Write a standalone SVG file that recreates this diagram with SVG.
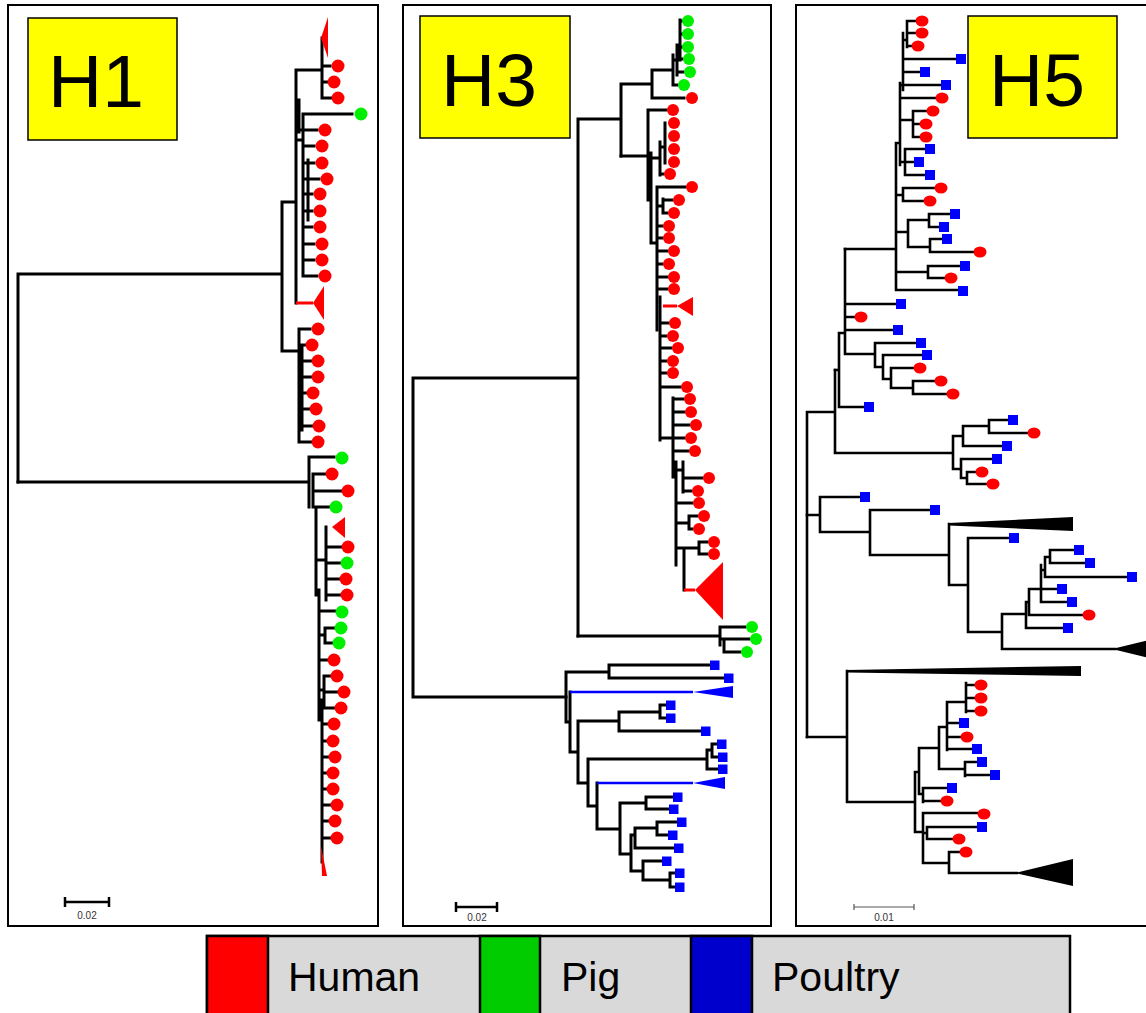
<svg xmlns="http://www.w3.org/2000/svg" width="1146" height="1013" viewBox="0 0 1146 1013">
<style>
.panel{fill:#fff;stroke:#000;stroke-width:2}
.lbl{fill:#ffff00;stroke:#000;stroke-width:1.5}
.lt{font-family:"Liberation Sans",Arial,sans-serif;font-size:75px;fill:#000;text-anchor:middle}
.br{fill:none;stroke:#000;stroke-width:3;stroke-linecap:square}
.br5{fill:none;stroke:#000;stroke-width:2.6;stroke-linecap:square}
.rb{fill:none;stroke:#ff0000;stroke-width:3}
.bb{fill:none;stroke:#0000ff;stroke-width:2.6}
.r{fill:#ff0000}
.g{fill:#00ee00}
.b{fill:#0000ff}
.k{fill:#000}
.sb{fill:none;stroke:#000;stroke-width:2.5}
.sbg{fill:none;stroke:#555;stroke-width:1.2}
.st{font-family:"Liberation Sans",Arial,sans-serif;font-size:10px;fill:#333;text-anchor:middle}
.leg{font-family:"Liberation Sans",Arial,sans-serif;font-size:41px;fill:#000}
</style>
<rect width="1146" height="1013" fill="#fff"/>

<g id="panel-h1">
<rect class="panel" x="8" y="5" width="370" height="921"/>
<g id="label-h1"><rect class="lbl" x="28" y="18" width="149" height="122"/><text class="lt" x="96" y="107">H1</text></g>
<g id="edges-h1">
<path class="br" d="M18,274V482M18,274H282M282,202V351M282,202H296M296,70V303M299,100V132M296,70H322M322,38V98M322,66H330M322,82H327M322,98H331M303,114H352M303,114V276M296,140H303M299,130H317M305,146H314M305,163H314M305,179H319M305,194H312M305,211H312M305,227H312M305,244H314M305,260H314M303,276H317M308,160V220M282,351H299M299,329V442M302,345V430M299,329H310M299,345H305M299,361H311M299,377H311M299,393H306M299,409H309M299,426H312M299,442H311"/>
<path class="br" d="M18,482H309M309,457V507M309,457H334M313,474V507M313,474H325M315,491H341M313,507H329M316,507V595M319,590V720M322,700V862M326,527V600M316,560H326M326,547H341M326,563H340M326,579H339M326,595H340M319,611H335M325,628V643M325,628H334M325,643H332M319,635H325M319,660H327M324,676V708M324,676H330M324,692H337M324,708H334M319,690H324M322,724H327M322,741H326M322,757H328M322,773H326M322,789H326M322,805H330M322,821H328M322,838H330"/>
<path class="rb" d="M296,303H313"/>
</g>
<g id="clades-h1">
<polygon class="r" points="321,38 328,17 328,58"/>
<polygon class="r" points="313,303 324,286 324,320"/>
<polygon class="r" points="332,527 345,517 345,538"/>
<polygon class="r" points="321,846 327,876 322,876"/>
</g>
<g id="leaves-h1">
<circle class="r" cx="338" cy="66" r="6.5"/><circle class="r" cx="334" cy="82" r="6.5"/><circle class="r" cx="338" cy="98" r="6.5"/>
<circle class="g" cx="361" cy="114" r="6.5"/>
<circle class="r" cx="325" cy="130" r="6.5"/><circle class="r" cx="322" cy="146" r="6.5"/><circle class="r" cx="322" cy="163" r="6.5"/><circle class="r" cx="327" cy="179" r="6.5"/><circle class="r" cx="320" cy="194" r="6.5"/><circle class="r" cx="320" cy="211" r="6.5"/><circle class="r" cx="320" cy="227" r="6.5"/><circle class="r" cx="322" cy="244" r="6.5"/><circle class="r" cx="322" cy="260" r="6.5"/><circle class="r" cx="325" cy="276" r="6.5"/>
<circle class="r" cx="318" cy="329" r="6.5"/><circle class="r" cx="312" cy="345" r="6.5"/><circle class="r" cx="318" cy="361" r="6.5"/><circle class="r" cx="318" cy="377" r="6.5"/><circle class="r" cx="313" cy="393" r="6.5"/><circle class="r" cx="316" cy="409" r="6.5"/><circle class="r" cx="319" cy="426" r="6.5"/><circle class="r" cx="318" cy="442" r="6.5"/>
<circle class="g" cx="342" cy="458" r="6.5"/><circle class="r" cx="332" cy="474" r="6.5"/><circle class="r" cx="348" cy="491" r="6.5"/><circle class="g" cx="336" cy="507" r="6.5"/>
<circle class="r" cx="348" cy="547" r="6.5"/><circle class="g" cx="347" cy="563" r="6.5"/><circle class="r" cx="346" cy="579" r="6.5"/><circle class="r" cx="347" cy="595" r="6.5"/><circle class="g" cx="342" cy="612" r="6.5"/><circle class="g" cx="341" cy="628" r="6.5"/><circle class="g" cx="339" cy="643" r="6.5"/>
<circle class="r" cx="334" cy="660" r="6.5"/><circle class="r" cx="337" cy="676" r="6.5"/><circle class="r" cx="344" cy="692" r="6.5"/><circle class="r" cx="341" cy="708" r="6.5"/><circle class="r" cx="334" cy="724" r="6.5"/><circle class="r" cx="333" cy="741" r="6.5"/><circle class="r" cx="335" cy="757" r="6.5"/><circle class="r" cx="333" cy="773" r="6.5"/><circle class="r" cx="333" cy="789" r="6.5"/><circle class="r" cx="337" cy="805" r="6.5"/><circle class="r" cx="335" cy="821" r="6.5"/><circle class="r" cx="337" cy="838" r="6.5"/>
</g>
<g id="scale-h1"><path class="sb" d="M65,902H109M65,897V907M109,897V907"/><text class="st" x="87" y="919">0.02</text></g>
</g>

<g id="panel-h3">
<rect class="panel" x="403" y="5" width="368" height="921"/>
<g id="label-h3"><rect class="lbl" x="420" y="16" width="150" height="122"/><text class="lt" x="489" y="106">H3</text></g>
<g id="edges-h3">
<path class="br" d="M413,378V697M413,378H578M413,697H566M578,119V636M578,119H621M621,84V156M621,84H652M652,70V98M652,98H684M652,70H673M673,55V85M673,85H677M673,60H677M677,45V75M677,72H683M680,20V60M680,21H682M680,34H682M680,47H682M677,59H682"/>
<path class="br" d="M621,156H648M648,110V200M648,110H666M648,158H660M660,142V175M660,174H663M660,147H665M665,123V163M651,153V243M651,243H657M657,187V330M657,187H685M663,199V213M657,206H663M663,200H672M663,213H667M657,226H662M657,238H662M657,251H667M657,264H662M657,277H667M657,289H667"/>
<path class="br" d="M660,297V440M660,323H668M660,336H666M660,348H671M660,361H666M660,373H666M660,387H680M660,438H673M673,398V477M673,399H683M673,412H684M673,425H689M673,438H684M673,451H688M673,470H676M676,462V565M676,470H683M683,462V492M683,478H702M683,491H691M676,503H692M676,523H689M689,516V529M689,516H697M689,529H692M676,548H684M684,548V590M684,548H699M699,542V554M699,542H707M699,554H707"/>
<path class="br" d="M578,636H720M720,627V645M720,627H745M720,639H724M724,639V652M724,639H749M724,652H740"/>
<path class="br" d="M566,672V722M566,672H609M609,665V678M609,665H710M609,678H724M566,722H570M570,692V752M570,752H578M578,721V783M578,721H619M619,712V731M619,712H660M660,705V718M660,705H666M660,718H666M619,731H701M578,783H588M588,759V806M588,759H707M707,750V769M707,750H712M712,744V757M712,744H717M712,757H718M707,769H718M588,806H597M597,783V829M597,829H620M620,803V854M620,803H646M646,797V809M646,797H673M646,809H669M620,854H631M631,835V871M631,835H635M635,828V848M635,828H657M657,822V835M657,822H677M657,835H668M635,848H674M631,871H643M643,861V880M643,861H662M643,880H670M670,873V887M670,873H675M670,887H675"/>
<path class="rb" d="M663,306H677M684,590H695"/>
<path class="bb" d="M570,692H693M597,783H693"/>
</g>
<g id="clades-h3">
<polygon class="r" points="677,306 693,297 693,316"/>
<polygon class="r" points="695,590 723,562 723,620"/>
<polygon class="b" points="693,692 733,686 733,698"/>
<polygon class="b" points="693,783 725,777 725,789"/>
</g>
<g id="leaves-h3">
<circle class="g" cx="688" cy="21" r="6"/><circle class="g" cx="688" cy="34" r="6"/><circle class="g" cx="688" cy="47" r="6"/><circle class="g" cx="689" cy="59" r="6"/><circle class="g" cx="690" cy="72" r="6"/><circle class="g" cx="684" cy="85" r="6"/>
<circle class="r" cx="692" cy="98" r="6"/><circle class="r" cx="673" cy="110" r="6"/><circle class="r" cx="674" cy="123" r="6"/><circle class="r" cx="674" cy="136" r="6"/><circle class="r" cx="674" cy="149" r="6"/><circle class="r" cx="674" cy="162" r="6"/><circle class="r" cx="670" cy="174" r="6"/>
<circle class="r" cx="692" cy="187" r="6"/><circle class="r" cx="679" cy="200" r="6"/><circle class="r" cx="674" cy="213" r="6"/><circle class="r" cx="669" cy="226" r="6"/><circle class="r" cx="669" cy="238" r="6"/><circle class="r" cx="674" cy="251" r="6"/><circle class="r" cx="669" cy="264" r="6"/><circle class="r" cx="674" cy="277" r="6"/><circle class="r" cx="674" cy="289" r="6"/>
<circle class="r" cx="675" cy="323" r="6"/><circle class="r" cx="673" cy="336" r="6"/><circle class="r" cx="678" cy="348" r="6"/><circle class="r" cx="673" cy="361" r="6"/><circle class="r" cx="673" cy="373" r="6"/><circle class="r" cx="687" cy="387" r="6"/><circle class="r" cx="690" cy="399" r="6"/><circle class="r" cx="691" cy="412" r="6"/><circle class="r" cx="696" cy="425" r="6"/><circle class="r" cx="691" cy="438" r="6"/><circle class="r" cx="695" cy="451" r="6"/>
<circle class="r" cx="709" cy="478" r="6"/><circle class="r" cx="698" cy="491" r="6"/><circle class="r" cx="699" cy="503" r="6"/><circle class="r" cx="704" cy="516" r="6"/><circle class="r" cx="699" cy="529" r="6"/><circle class="r" cx="714" cy="542" r="6"/><circle class="r" cx="714" cy="554" r="6"/>
<circle class="g" cx="752" cy="627" r="6"/><circle class="g" cx="756" cy="639" r="6"/><circle class="g" cx="747" cy="652" r="6"/>
<rect class="b" x="710" y="660.5" width="9.5" height="9.5"/><rect class="b" x="724" y="673.5" width="9.5" height="9.5"/>
<rect class="b" x="666" y="700.5" width="9.5" height="9.5"/><rect class="b" x="666" y="713.5" width="9.5" height="9.5"/><rect class="b" x="701" y="726.5" width="9.5" height="9.5"/>
<rect class="b" x="717" y="739.5" width="9.5" height="9.5"/><rect class="b" x="718" y="752.5" width="9.5" height="9.5"/><rect class="b" x="718" y="764.5" width="9.5" height="9.5"/>
<rect class="b" x="673" y="792.5" width="9.5" height="9.5"/><rect class="b" x="669" y="804.5" width="9.5" height="9.5"/><rect class="b" x="677" y="817.5" width="9.5" height="9.5"/><rect class="b" x="668" y="830.5" width="9.5" height="9.5"/><rect class="b" x="674" y="843.5" width="9.5" height="9.5"/><rect class="b" x="662" y="856.5" width="9.5" height="9.5"/><rect class="b" x="675" y="868.5" width="9.5" height="9.5"/><rect class="b" x="675" y="882.5" width="9.5" height="9.5"/>
</g>
<g id="scale-h3"><path class="sb" d="M456,907H497M456,902V912M497,902V912"/><text class="st" x="477" y="921">0.02</text></g>
</g>

<g id="panel-h5">
<rect class="panel" x="796" y="5" width="370" height="921"/>
<g id="label-h5"><rect class="lbl" x="968" y="16" width="149" height="122"/><text class="lt" x="1037" y="106">H5</text></g>
<g id="edges-h5">
<path class="br5" d="M807,412V737M807,412H835M835,370V453M835,453H953M953,436V469M953,436H963M963,426V446M963,426H989M989,420V433M989,420H1008M989,433H1027M963,446H1002M953,469H961M961,459V478M961,459H992M961,478H967M967,472V484M967,472H975M967,484H986"/>
<path class="br5" d="M835,370H839M839,333V407M839,407H864M839,333H845M845,249V354M845,354H875M875,343V367M875,343H916M875,367H883M883,355V379M883,355H922M883,379H891M891,368V388M891,368H913M891,388H913M913,381V394M913,381H934M913,394H946M845,330H893M845,317H854M845,304H896"/>
<path class="br5" d="M845,249H896M896,143V290M896,290H958M896,272H928M928,266V278M928,266H960M928,278H944M896,232H908M908,220V247M908,220H929M929,214V227M929,214H950M929,227H939M908,247H930M930,239V252M930,239H942M930,252H973M896,195H903M903,188V201M903,188H934M903,201H923M896,143H900M900,83V165M900,162H905M905,149V175M905,149H925M905,162H914M905,175H925M900,120H913M913,111V137M913,111H926M913,124H919M913,137H919M900,98H935M900,85H941M903,33V90M903,72H920M905,59H956M903,40H907M907,21V47M907,21H915M907,33H915M907,46H911"/>
<path class="br5" d="M807,515H820M820,497V532M820,497H860M820,532H870M870,510V555M870,510H930M870,555H949M949,524V585M949,585H968M968,538V632M968,538H1009M968,632H1002M1002,614V649M1002,649H1115M1002,614H1026M1026,602V628M1026,628H1063M1026,602H1029M1029,589V615M1029,615H1082M1029,589H1041M1041,565V602M1041,602H1067M1041,589H1057M1041,570H1045M1045,557V577M1045,577H1127M1045,557H1050M1050,550V563M1050,550H1074M1050,563H1085"/>
<path class="br5" d="M807,737H847M847,671V802M847,802H915M915,772V832M915,772H919M919,748V794M919,748H939M939,727V769M939,727H947M947,702V750M947,702H966M966,683V712M966,685H974M966,698H974M966,711H974M947,723H959M947,737H960M947,749H972M939,769H965M965,762V776M965,762H977M965,775H990M919,794H923M923,788V802M923,788H947M923,801H940M915,832H923M923,813V863M923,813H977M923,833H927M927,827V839M927,827H977M927,839H952M923,863H949M949,852V873M949,852H959M949,873H1017"/>
</g>
<g id="clades-h5">
<polygon class="k" points="949,523 1073,517 1073,531 949,525.5"/>
<polygon class="k" points="1112,649 1165,636 1165,662"/>
<polygon class="k" points="847,670 1081,666 1081,676 847,672.5"/>
<polygon class="k" points="1015,873 1073,859 1073,886"/>
</g>
<g id="leaves-h5">
<ellipse class="r" cx="922" cy="21" rx="6.5" ry="5.5"/><ellipse class="r" cx="922" cy="33" rx="6.5" ry="5.5"/><ellipse class="r" cx="918" cy="46" rx="6.5" ry="5.5"/>
<rect class="b" x="956" y="54" width="10" height="10"/><rect class="b" x="920" y="67" width="10" height="10"/><rect class="b" x="941" y="80" width="10" height="10"/>
<ellipse class="r" cx="942" cy="98" rx="6.5" ry="5.5"/><ellipse class="r" cx="933" cy="111" rx="6.5" ry="5.5"/><ellipse class="r" cx="926" cy="124" rx="6.5" ry="5.5"/><ellipse class="r" cx="926" cy="137" rx="6.5" ry="5.5"/>
<rect class="b" x="925" y="144" width="10" height="10"/><rect class="b" x="914" y="157" width="10" height="10"/><rect class="b" x="925" y="170" width="10" height="10"/>
<ellipse class="r" cx="941" cy="188" rx="6.5" ry="5.5"/><ellipse class="r" cx="930" cy="201" rx="6.5" ry="5.5"/>
<rect class="b" x="950" y="209" width="10" height="10"/><rect class="b" x="939" y="222" width="10" height="10"/><rect class="b" x="942" y="234" width="10" height="10"/>
<ellipse class="r" cx="980" cy="252" rx="6.5" ry="5.5"/>
<rect class="b" x="960" y="261" width="10" height="10"/><ellipse class="r" cx="951" cy="278" rx="6.5" ry="5.5"/><rect class="b" x="958" y="286" width="10" height="10"/>
<rect class="b" x="896" y="299" width="10" height="10"/><ellipse class="r" cx="861" cy="317" rx="6.5" ry="5.5"/><rect class="b" x="893" y="325" width="10" height="10"/>
<rect class="b" x="916" y="338" width="10" height="10"/><rect class="b" x="922" y="350" width="10" height="10"/>
<ellipse class="r" cx="920" cy="368" rx="6.5" ry="5.5"/><ellipse class="r" cx="941" cy="381" rx="6.5" ry="5.5"/><ellipse class="r" cx="953" cy="394" rx="6.5" ry="5.5"/>
<rect class="b" x="864" y="402" width="10" height="10"/>
<rect class="b" x="1008" y="415" width="10" height="10"/><ellipse class="r" cx="1034" cy="433" rx="6.5" ry="5.5"/><rect class="b" x="1002" y="441" width="10" height="10"/>
<rect class="b" x="992" y="454" width="10" height="10"/><ellipse class="r" cx="982" cy="472" rx="6.5" ry="5.5"/><ellipse class="r" cx="993" cy="484" rx="6.5" ry="5.5"/>
<rect class="b" x="860" y="492" width="10" height="10"/><rect class="b" x="930" y="505" width="10" height="10"/><rect class="b" x="1009" y="533" width="10" height="10"/>
<rect class="b" x="1074" y="545" width="10" height="10"/><rect class="b" x="1085" y="558" width="10" height="10"/><rect class="b" x="1127" y="572" width="10" height="10"/><rect class="b" x="1057" y="584" width="10" height="10"/><rect class="b" x="1067" y="597" width="10" height="10"/>
<ellipse class="r" cx="1089" cy="615" rx="6.5" ry="5.5"/><rect class="b" x="1063" y="623" width="10" height="10"/>
<ellipse class="r" cx="981" cy="685" rx="6.5" ry="5.5"/><ellipse class="r" cx="981" cy="698" rx="6.5" ry="5.5"/><ellipse class="r" cx="981" cy="711" rx="6.5" ry="5.5"/>
<rect class="b" x="959" y="718" width="10" height="10"/><ellipse class="r" cx="967" cy="737" rx="6.5" ry="5.5"/><rect class="b" x="972" y="744" width="10" height="10"/>
<rect class="b" x="977" y="757" width="10" height="10"/><rect class="b" x="990" y="770" width="10" height="10"/>
<rect class="b" x="947" y="783" width="10" height="10"/><ellipse class="r" cx="947" cy="801" rx="6.5" ry="5.5"/>
<ellipse class="r" cx="984" cy="814" rx="6.5" ry="5.5"/><rect class="b" x="977" y="822" width="10" height="10"/><ellipse class="r" cx="959" cy="839" rx="6.5" ry="5.5"/><ellipse class="r" cx="966" cy="852" rx="6.5" ry="5.5"/>
</g>
<g id="scale-h5"><path class="sbg" d="M854,907H914M854,904V910M914,904V910"/><text class="st" x="884" y="921">0.01</text></g>
</g>

<g id="legend">
<rect x="207" y="936" width="863" height="82" fill="#d9d9d9" stroke="#000" stroke-width="2.5"/>
<rect x="207" y="936" width="61" height="82" fill="#ff0000" stroke="#000" stroke-width="2.5"/>
<rect x="480" y="936" width="60" height="82" fill="#00cc00" stroke="#000" stroke-width="2.5"/>
<rect x="691" y="936" width="61" height="82" fill="#0000cc" stroke="#000" stroke-width="2.5"/>
<text class="leg" x="288" y="991">Human</text>
<text class="leg" x="561" y="991">Pig</text>
<text class="leg" x="772" y="991">Poultry</text>
</g>
</svg>
